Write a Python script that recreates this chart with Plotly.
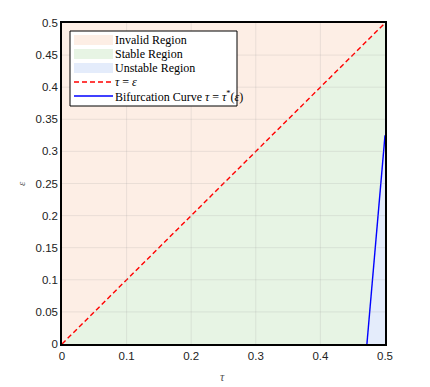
import plotly.graph_objects as go

# region outlines in (tau, eps)
invalid_tau = [0, 0, 0.5, 0]
invalid_eps = [0, 0.5, 0.5, 0]
stable_tau = [0, 0.5, 0.5, 0]
stable_eps = [0, 0, 0.5, 0]
unstable_tau = [0.472, 0.4995, 0.5, 0.5, 0.472]
unstable_eps = [0, 0.325, 0.40, 0, 0]

# tau = eps diagonal
diag_tau = [0, 0.5]
diag_eps = [0, 0.5]

# bifurcation curve tau = tau*(eps)
bif_tau = [0.472, 0.5]
bif_eps = [0, 0.325]

x_ticks = [0, 0.1, 0.2, 0.3, 0.4, 0.5]
y_ticks = [0, 0.05, 0.1, 0.15, 0.2, 0.25, 0.3, 0.35, 0.4, 0.45, 0.5]

INVALID = "#fdeee5"
STABLE = "#e7f4e4"
UNSTABLE = "#e4ecfb"
RED = "#ff0000"
BLUE = "#0000ff"

# page body has an 8px margin, so the figure is drawn 8px in from the window
OFF = 8
W, H = 430 - OFF, 387 - OFF
L, T = 62 - OFF, 23 - OFF
R, B = W - (385 - OFF), H - (344 - OFF)
PW, PH = W - L - R, H - T - B


def px_x(px):
    return (px - OFF - L) / PW


def px_y(py):
    return (H - B - (py - OFF)) / PH


fig = go.Figure()

fig.add_trace(go.Scatter(x=invalid_tau, y=invalid_eps, fill="toself", mode="lines",
                         line=dict(width=0), fillcolor=INVALID, hoverinfo="skip"))
fig.add_trace(go.Scatter(x=stable_tau, y=stable_eps, fill="toself", mode="lines",
                         line=dict(width=0), fillcolor=STABLE, hoverinfo="skip"))
fig.add_trace(go.Scatter(x=unstable_tau, y=unstable_eps, fill="toself", mode="lines",
                         line=dict(width=0), fillcolor=UNSTABLE, hoverinfo="skip"))
fig.add_trace(go.Scatter(x=diag_tau, y=diag_eps, mode="lines",
                         line=dict(color=RED, width=1.4, dash="5px,3px")))
fig.add_trace(go.Scatter(x=bif_tau, y=bif_eps, mode="lines",
                         line=dict(color=BLUE, width=1.4)))

# faint grid drawn over the filled regions
shapes = []
for v in x_ticks[1:-1]:
    shapes.append(dict(type="line", xref="x", yref="paper", x0=v, x1=v, y0=0, y1=1,
                       line=dict(color="rgba(150,150,150,0.18)", width=1), layer="above"))
for v in y_ticks[1:-1]:
    shapes.append(dict(type="line", xref="paper", yref="y", x0=0, x1=1, y0=v, y1=v,
                       line=dict(color="rgba(150,150,150,0.18)", width=1), layer="above"))

# legend box
leg_x0, leg_x1, leg_y0, leg_y1 = 70, 237, 31, 106
shapes.append(dict(type="rect", xref="paper", yref="paper",
                   x0=px_x(leg_x0), x1=px_x(leg_x1), y0=px_y(leg_y1), y1=px_y(leg_y0),
                   fillcolor="white", line=dict(color="black", width=1), layer="above"))

legend_items = [
    ("Invalid Region", "fill", INVALID),
    ("Stable Region", "fill", STABLE),
    ("Unstable Region", "fill", UNSTABLE),
    ("<i>τ</i> = <i>ε</i>", "dash", RED),
    ("Bifurcation Curve <i>τ</i> = <i>τ</i><sup>*</sup>(<i>ε</i>)", "solid", BLUE),
]
annotations = []
sw_x0, sw_x1 = 74, 113
for i, (label, kind, color) in enumerate(legend_items):
    cy = 40 + 14 * i
    if kind == "fill":
        shapes.append(dict(type="rect", xref="paper", yref="paper",
                           x0=px_x(sw_x0), x1=px_x(sw_x1),
                           y0=px_y(cy + 5), y1=px_y(cy - 5),
                           fillcolor=color, line=dict(width=0), layer="above"))
    else:
        shapes.append(dict(type="line", xref="paper", yref="paper",
                           x0=px_x(sw_x0), x1=px_x(sw_x1), y0=px_y(cy), y1=px_y(cy),
                           line=dict(color=color, width=1.4,
                                     dash="5px,3px" if kind == "dash" else "solid"),
                           layer="above"))
    annotations.append(dict(xref="paper", yref="paper", x=px_x(113), y=px_y(cy),
                            xanchor="left", yanchor="middle", showarrow=False,
                            text=label,
                            font=dict(family="Liberation Serif, DejaVu Serif",
                                      size=12, color="black")))

# axis titles
annotations.append(dict(xref="paper", yref="paper", x=px_x(222), y=px_y(377),
                        xanchor="center", yanchor="middle", showarrow=False,
                        text="<i>τ</i>",
                        font=dict(family="Liberation Serif", size=12, color="#555")))
annotations.append(dict(xref="paper", yref="paper", x=px_x(21), y=px_y(184),
                        xanchor="center", yanchor="middle", showarrow=False,
                        text="<i>ε</i>", textangle=-90,
                        font=dict(family="Liberation Serif", size=11, color="#555")))

axis_common = dict(
    showgrid=False, zeroline=False, showline=True, linecolor="black", linewidth=1.5,
    mirror=True, ticks="", automargin=False, layer="above traces",
    tickfont=dict(family="Liberation Sans, Arial", size=11.5, color="#222"),
)

fig.update_layout(
    width=W, height=H,
    margin=dict(l=L, r=R, t=T, b=B),
    paper_bgcolor="white", plot_bgcolor="white",
    xaxis=dict(range=[0, 0.5], tickvals=x_ticks,
               ticktext=[f"{v:g}" for v in x_ticks], **axis_common),
    yaxis=dict(range=[0, 0.5], tickvals=y_ticks,
               ticktext=[f"{v:g}" for v in y_ticks], **axis_common),
    shapes=shapes,
    annotations=annotations,
    showlegend=False,
)

fig.write_html("out.html")
